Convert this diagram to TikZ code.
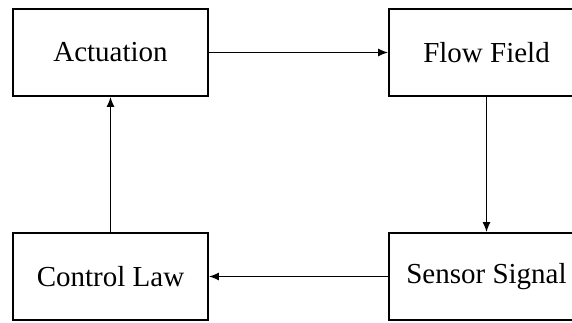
\documentclass[tikz,border=0pt]{standalone}
\usepackage{fontspec}
\setmainfont{Liberation Serif}
\usetikzlibrary{arrows.meta}
\begin{document}
\begin{tikzpicture}[x=1pt,y=1pt,>={Latex[length=10pt,width=8pt]}]
    \tikzstyle{block}=[draw=black,line width=1.8pt,rectangle,minimum width=195pt,minimum height=87pt,inner sep=0pt,font=\fontsize{29}{33}\selectfont]
    \tikzstyle{link}=[line width=1.5pt,->]

    \useasboundingbox (0,0) rectangle (572,323);

    \node[block] at (110.5,270.5) (act) {Actuation};
    \node[block] at (486.5,270.5) (flow) {Flow Field};
    \node[block] at (486.5,46.5) (sens) {Sensor Signal};
    \node[block] at (110.5,46.5) (law) {Control Law};

    \draw[link] (act) -- (flow);
    \draw[link] (flow) -- (sens);
    \draw[link] (sens) -- (law);
    \draw[link] (law) -- (act);
\end{tikzpicture}
\end{document}
